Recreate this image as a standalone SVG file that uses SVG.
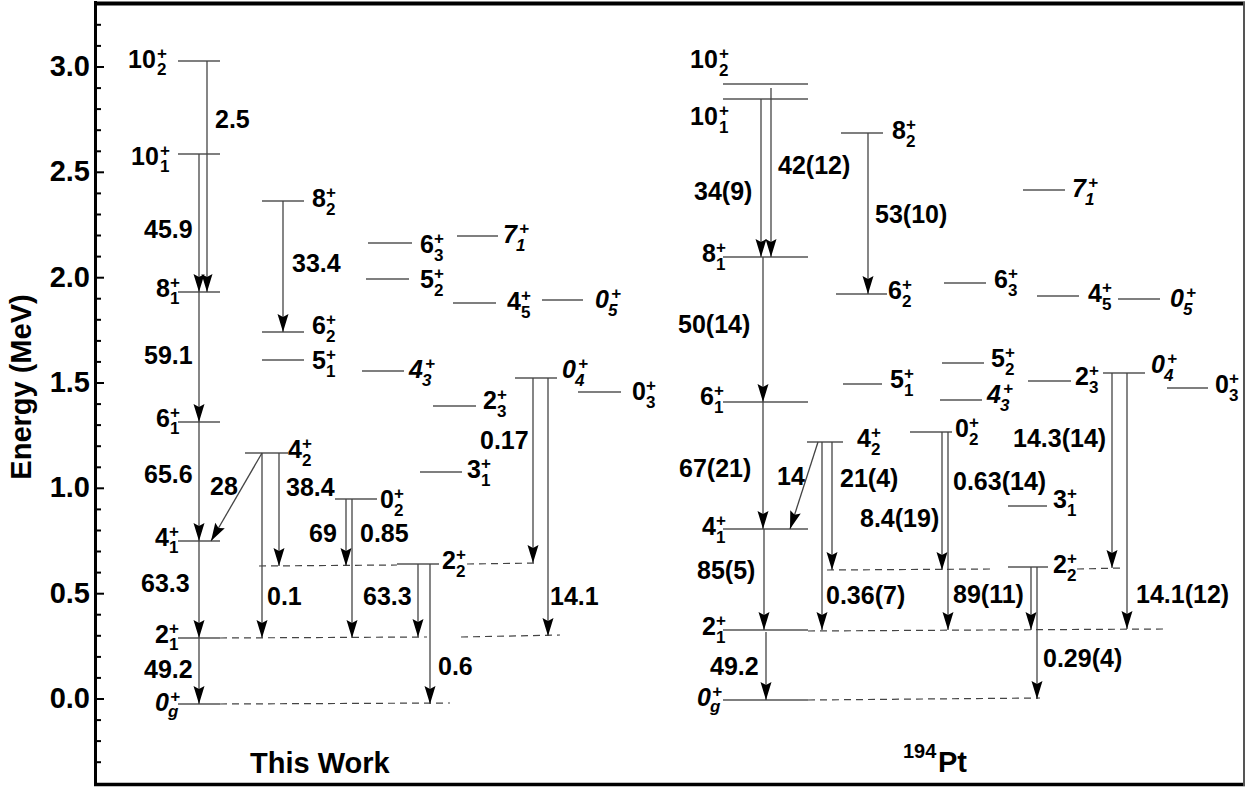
<svg xmlns="http://www.w3.org/2000/svg" width="1245" height="787" viewBox="0 0 1245 787">
<style>
text { font-family: "Liberation Sans", Arial, sans-serif; font-weight: bold; fill: #000; }
.t { font-size: 25px; }
.s { font-size: 17px; }
.i { font-style: italic; }
.ax { font-size: 29px; }
.lvl { stroke: #000; stroke-width: 1.2; fill: none; }
.arr { stroke: #444; stroke-width: 1.3; fill: none; marker-end: url(#ah); }
.dash { stroke: #444; stroke-width: 1.2; stroke-dasharray: 7 5; fill: none; }
.tick { stroke: #000; stroke-width: 2; }
</style>
<defs>
<marker id="ah" viewBox="-19 -7 20 14" refX="0" refY="0" markerWidth="20" markerHeight="14" orient="auto" markerUnits="userSpaceOnUse">
<path d="M0,0 L-18,-5.5 L-15,0 L-18,5.5 Z" fill="#000"/>
</marker>
</defs>
<rect width="1245" height="787" fill="#fff"/>

<g id="frame">
<line x1="95.5" y1="1" x2="95.5" y2="786" stroke="#000" stroke-width="3"/>
<line x1="94" y1="3.5" x2="1245" y2="3.5" stroke="#000" stroke-width="4"/>
<line x1="94" y1="784.5" x2="1245" y2="784.5" stroke="#000" stroke-width="3.5"/>
<line x1="1244" y1="2" x2="1244" y2="786" stroke="#555" stroke-width="2"/>
</g>

<g id="axis">
<g class="tick">
<line x1="97" y1="24.8" x2="101" y2="24.8"/><line x1="97" y1="45.9" x2="101" y2="45.9"/>
<line x1="97" y1="67" x2="104" y2="67"/>
<line x1="97" y1="88.1" x2="101" y2="88.1"/><line x1="97" y1="109.1" x2="101" y2="109.1"/><line x1="97" y1="130.2" x2="101" y2="130.2"/><line x1="97" y1="151.3" x2="101" y2="151.3"/>
<line x1="97" y1="172.3" x2="104" y2="172.3"/>
<line x1="97" y1="193.4" x2="101" y2="193.4"/><line x1="97" y1="214.5" x2="101" y2="214.5"/><line x1="97" y1="235.5" x2="101" y2="235.5"/><line x1="97" y1="256.6" x2="101" y2="256.6"/>
<line x1="97" y1="277.7" x2="104" y2="277.7"/>
<line x1="97" y1="298.7" x2="101" y2="298.7"/><line x1="97" y1="319.8" x2="101" y2="319.8"/><line x1="97" y1="340.9" x2="101" y2="340.9"/><line x1="97" y1="361.9" x2="101" y2="361.9"/>
<line x1="97" y1="383" x2="104" y2="383"/>
<line x1="97" y1="404.1" x2="101" y2="404.1"/><line x1="97" y1="425.1" x2="101" y2="425.1"/><line x1="97" y1="446.2" x2="101" y2="446.2"/><line x1="97" y1="467.3" x2="101" y2="467.3"/>
<line x1="97" y1="488.3" x2="104" y2="488.3"/>
<line x1="97" y1="509.4" x2="101" y2="509.4"/><line x1="97" y1="530.5" x2="101" y2="530.5"/><line x1="97" y1="551.5" x2="101" y2="551.5"/><line x1="97" y1="572.6" x2="101" y2="572.6"/>
<line x1="97" y1="593.7" x2="104" y2="593.7"/>
<line x1="97" y1="614.7" x2="101" y2="614.7"/><line x1="97" y1="635.8" x2="101" y2="635.8"/><line x1="97" y1="656.9" x2="101" y2="656.9"/><line x1="97" y1="677.9" x2="101" y2="677.9"/>
<line x1="97" y1="699" x2="104" y2="699"/>
<line x1="97" y1="720.1" x2="101" y2="720.1"/><line x1="97" y1="741.1" x2="101" y2="741.1"/><line x1="97" y1="762.2" x2="101" y2="762.2"/>
</g>
<g text-anchor="end">
<text class="ax" x="90" y="76">3.0</text>
<text class="ax" x="90" y="181.3">2.5</text>
<text class="ax" x="90" y="286.7">2.0</text>
<text class="ax" x="90" y="392">1.5</text>
<text class="ax" x="90" y="497.3">1.0</text>
<text class="ax" x="90" y="602.7">0.5</text>
<text class="ax" x="90" y="708">0.0</text>
</g>
<text class="ax" text-anchor="middle" transform="translate(31,387) rotate(-90)">Energy (MeV)</text>
</g>

<g id="panel-titles">
<text class="ax" x="250" y="773">This Work</text>
<text class="ax" x="903" y="772"><tspan style="font-size:20px" dy="-14">194</tspan><tspan x="938" dy="14">Pt</tspan></text>
</g>

<!-- Left panel levels -->
<g id="L-10_2"><line class="lvl" x1="178" y1="61" x2="220" y2="61"/><text class="t" x="128" y="68">10<tspan class="s" x="157" dy="-9">+</tspan><tspan class="s" x="157" dy="16">2</tspan></text></g>
<g id="L-10_1"><line class="lvl" x1="178" y1="154" x2="220" y2="154"/><text class="t" x="131" y="165">10<tspan class="s" x="160" dy="-9">+</tspan><tspan class="s" x="160" dy="16">1</tspan></text></g>
<g id="L-8_1"><line class="lvl" x1="178" y1="292" x2="220" y2="292"/><text class="t" x="156" y="297">8<tspan class="s" x="170" dy="-9">+</tspan><tspan class="s" x="170" dy="16">1</tspan></text></g>
<g id="L-6_1"><line class="lvl" x1="178" y1="422" x2="220" y2="422"/><text class="t" x="156" y="427">6<tspan class="s" x="170" dy="-9">+</tspan><tspan class="s" x="170" dy="16">1</tspan></text></g>
<g id="L-4_1"><line class="lvl" x1="178" y1="541" x2="220" y2="541"/><text class="t" x="155" y="546">4<tspan class="s" x="169" dy="-9">+</tspan><tspan class="s" x="169" dy="16">1</tspan></text></g>
<g id="L-2_1"><line class="lvl" x1="178" y1="638" x2="220" y2="638"/><text class="t" x="155" y="643">2<tspan class="s" x="169" dy="-9">+</tspan><tspan class="s" x="169" dy="16">1</tspan></text></g>
<g id="L-0_g"><line class="lvl" x1="178" y1="704" x2="220" y2="704"/><text class="t i" x="155" y="711">0<tspan class="s" x="170" dy="-9">+</tspan><tspan class="s" x="168" dy="15">g</tspan></text></g>
<g id="L-8_2"><line class="lvl" x1="262" y1="201" x2="304" y2="201"/><text class="t" x="312" y="207">8<tspan class="s" x="326" dy="-9">+</tspan><tspan class="s" x="326" dy="17">2</tspan></text></g>
<g id="L-6_2"><line class="lvl" x1="262" y1="332" x2="304" y2="332"/><text class="t" x="312" y="334">6<tspan class="s" x="326" dy="-9">+</tspan><tspan class="s" x="326" dy="17">2</tspan></text></g>
<g id="L-5_1"><line class="lvl" x1="262" y1="360" x2="304" y2="360"/><text class="t" x="312" y="369">5<tspan class="s" x="326" dy="-9">+</tspan><tspan class="s" x="326" dy="17">1</tspan></text></g>
<g id="L-6_3"><line class="lvl" x1="368" y1="243" x2="412" y2="243"/><text class="t" x="420" y="253">6<tspan class="s" x="434" dy="-9">+</tspan><tspan class="s" x="434" dy="17">3</tspan></text></g>
<g id="L-5_2"><line class="lvl" x1="366" y1="279" x2="409" y2="279"/><text class="t" x="420" y="288">5<tspan class="s" x="434" dy="-9">+</tspan><tspan class="s" x="434" dy="17">2</tspan></text></g>
<g id="L-7_1"><line class="lvl" x1="457" y1="236" x2="498" y2="236"/><text class="t i" x="503" y="243">7<tspan class="s" x="519" dy="-9">+</tspan><tspan class="s" x="516" dy="17">1</tspan></text></g>
<g id="L-4_5"><line class="lvl" x1="453" y1="303" x2="496" y2="303"/><text class="t" x="507" y="310">4<tspan class="s" x="521" dy="-9">+</tspan><tspan class="s" x="521" dy="17">5</tspan></text></g>
<g id="L-0_5"><line class="lvl" x1="542" y1="300" x2="583" y2="300"/><text class="t i" x="595" y="308">0<tspan class="s" x="611" dy="-9">+</tspan><tspan class="s" x="608" dy="17">5</tspan></text></g>
<g id="L-4_3"><line class="lvl" x1="362" y1="371" x2="404" y2="371"/><text class="t i" x="409" y="378">4<tspan class="s" x="425" dy="-9">+</tspan><tspan class="s" x="422" dy="17">3</tspan></text></g>
<g id="L-0_4"><line class="lvl" x1="515" y1="378" x2="557" y2="378"/><text class="t i" x="562" y="378">0<tspan class="s" x="578" dy="-9">+</tspan><tspan class="s" x="575" dy="17">4</tspan></text></g>
<g id="L-2_3"><line class="lvl" x1="433" y1="406" x2="476" y2="406"/><text class="t" x="483" y="409">2<tspan class="s" x="497" dy="-9">+</tspan><tspan class="s" x="497" dy="17">3</tspan></text></g>
<g id="L-0_3"><line class="lvl" x1="578" y1="392" x2="621" y2="392"/><text class="t" x="632" y="400">0<tspan class="s" x="646" dy="-9">+</tspan><tspan class="s" x="646" dy="17">3</tspan></text></g>
<g id="L-3_1"><line class="lvl" x1="420" y1="472" x2="462" y2="472"/><text class="t" x="467" y="478">3<tspan class="s" x="481" dy="-9">+</tspan><tspan class="s" x="481" dy="17">1</tspan></text></g>
<g id="L-4_2"><line class="lvl" x1="245" y1="453" x2="288" y2="453"/><text class="t" x="288" y="458">4<tspan class="s" x="302" dy="-9">+</tspan><tspan class="s" x="302" dy="17">2</tspan></text></g>
<g id="L-0_2"><line class="lvl" x1="335" y1="499" x2="377" y2="499"/><text class="t" x="380" y="508">0<tspan class="s" x="394" dy="-9">+</tspan><tspan class="s" x="394" dy="17">2</tspan></text></g>
<g id="L-2_2"><line class="lvl" x1="397" y1="564" x2="439" y2="564"/><text class="t" x="442" y="569">2<tspan class="s" x="456" dy="-9">+</tspan><tspan class="s" x="456" dy="17">2</tspan></text></g>

<!-- Right panel levels -->
<g id="R-10_2"><line class="lvl" x1="723" y1="84" x2="808" y2="84"/><text class="t" x="690" y="68">10<tspan class="s" x="719" dy="-9">+</tspan><tspan class="s" x="719" dy="17">2</tspan></text></g>
<g id="R-10_1"><line class="lvl" x1="723" y1="99" x2="808" y2="99"/><text class="t" x="690" y="125">10<tspan class="s" x="719" dy="-9">+</tspan><tspan class="s" x="719" dy="17">1</tspan></text></g>
<g id="R-8_1"><line class="lvl" x1="723" y1="257" x2="808" y2="257"/><text class="t" x="702" y="262">8<tspan class="s" x="716" dy="-9">+</tspan><tspan class="s" x="716" dy="17">1</tspan></text></g>
<g id="R-8_2"><line class="lvl" x1="841" y1="133" x2="883" y2="133"/><text class="t" x="892" y="139">8<tspan class="s" x="906" dy="-9">+</tspan><tspan class="s" x="906" dy="17">2</tspan></text></g>
<g id="R-6_2"><line class="lvl" x1="836" y1="294" x2="887" y2="294"/><text class="t" x="888" y="299">6<tspan class="s" x="902" dy="-9">+</tspan><tspan class="s" x="902" dy="17">2</tspan></text></g>
<g id="R-6_1"><line class="lvl" x1="723" y1="402" x2="808" y2="402"/><text class="t" x="700" y="405">6<tspan class="s" x="714" dy="-9">+</tspan><tspan class="s" x="714" dy="17">1</tspan></text></g>
<g id="R-5_1"><line class="lvl" x1="843" y1="384" x2="882" y2="384"/><text class="t" x="890" y="388">5<tspan class="s" x="904" dy="-9">+</tspan><tspan class="s" x="904" dy="17">1</tspan></text></g>
<g id="R-4_1"><line class="lvl" x1="723" y1="529" x2="808" y2="529"/><text class="t" x="702" y="535">4<tspan class="s" x="716" dy="-9">+</tspan><tspan class="s" x="716" dy="17">1</tspan></text></g>
<g id="R-4_2"><line class="lvl" x1="807" y1="442" x2="843" y2="442"/><text class="t" x="857" y="447">4<tspan class="s" x="871" dy="-9">+</tspan><tspan class="s" x="871" dy="17">2</tspan></text></g>
<g id="R-2_1"><line class="lvl" x1="723" y1="630" x2="808" y2="630"/><text class="t" x="702" y="635">2<tspan class="s" x="716" dy="-9">+</tspan><tspan class="s" x="716" dy="17">1</tspan></text></g>
<g id="R-0_g"><line class="lvl" x1="723" y1="700" x2="808" y2="700"/><text class="t i" x="697" y="706">0<tspan class="s" x="712" dy="-9">+</tspan><tspan class="s" x="710" dy="15">g</tspan></text></g>
<g id="R-0_2"><line class="lvl" x1="910" y1="432" x2="952" y2="432"/><text class="t" x="955" y="437">0<tspan class="s" x="969" dy="-9">+</tspan><tspan class="s" x="969" dy="17">2</tspan></text></g>
<g id="R-4_3"><line class="lvl" x1="940" y1="400" x2="982" y2="400"/><text class="t i" x="987" y="403">4<tspan class="s" x="1003" dy="-9">+</tspan><tspan class="s" x="1000" dy="17">3</tspan></text></g>
<g id="R-3_1"><line class="lvl" x1="1008" y1="506" x2="1047" y2="506"/><text class="t" x="1053" y="508">3<tspan class="s" x="1067" dy="-9">+</tspan><tspan class="s" x="1067" dy="17">1</tspan></text></g>
<g id="R-2_2"><line class="lvl" x1="1008" y1="567" x2="1048" y2="567"/><text class="t" x="1053" y="573">2<tspan class="s" x="1067" dy="-9">+</tspan><tspan class="s" x="1067" dy="17">2</tspan></text></g>
<g id="R-5_2"><line class="lvl" x1="942" y1="363" x2="984" y2="363"/><text class="t" x="991" y="367">5<tspan class="s" x="1005" dy="-9">+</tspan><tspan class="s" x="1005" dy="17">2</tspan></text></g>
<g id="R-6_3"><line class="lvl" x1="944" y1="283" x2="986" y2="283"/><text class="t" x="994" y="288">6<tspan class="s" x="1008" dy="-9">+</tspan><tspan class="s" x="1008" dy="17">3</tspan></text></g>
<g id="R-7_1"><line class="lvl" x1="1023" y1="190" x2="1065" y2="190"/><text class="t i" x="1072" y="197">7<tspan class="s" x="1088" dy="-9">+</tspan><tspan class="s" x="1085" dy="17">1</tspan></text></g>
<g id="R-4_5"><line class="lvl" x1="1037" y1="296" x2="1079" y2="296"/><text class="t" x="1088" y="302">4<tspan class="s" x="1102" dy="-9">+</tspan><tspan class="s" x="1102" dy="17">5</tspan></text></g>
<g id="R-0_5"><line class="lvl" x1="1118" y1="299" x2="1160" y2="299"/><text class="t i" x="1170" y="307">0<tspan class="s" x="1186" dy="-9">+</tspan><tspan class="s" x="1183" dy="17">5</tspan></text></g>
<g id="R-2_3"><line class="lvl" x1="1028" y1="381" x2="1071" y2="381"/><text class="t" x="1075" y="385">2<tspan class="s" x="1089" dy="-9">+</tspan><tspan class="s" x="1089" dy="17">3</tspan></text></g>
<g id="R-0_4"><line class="lvl" x1="1103" y1="373" x2="1145" y2="373"/><text class="t i" x="1151" y="373">0<tspan class="s" x="1167" dy="-9">+</tspan><tspan class="s" x="1164" dy="17">4</tspan></text></g>
<g id="R-0_3"><line class="lvl" x1="1167" y1="388" x2="1208" y2="388"/><text class="t" x="1215" y="393">0<tspan class="s" x="1229" dy="-9">+</tspan><tspan class="s" x="1229" dy="17">3</tspan></text></g>

<g id="connectors">
<!-- dashed level extensions -->
<line class="dash" x1="220" y1="638" x2="427" y2="637"/>
<line class="dash" x1="220" y1="704" x2="450" y2="703"/>
<line class="dash" x1="259" y1="566" x2="397" y2="565"/>
<line class="dash" x1="467" y1="564" x2="538" y2="563"/>
<line class="dash" x1="461" y1="637" x2="560" y2="635"/>
<line class="dash" x1="827" y1="570" x2="993" y2="569"/>
<line class="dash" x1="1077" y1="569" x2="1122" y2="568"/>
<line class="dash" x1="808" y1="631" x2="1163" y2="629"/>
<line class="dash" x1="808" y1="700" x2="1040" y2="698"/>

<!-- left panel transitions -->
<line class="arr" x1="207" y1="61" x2="207" y2="292"/>
<line class="arr" x1="199" y1="154" x2="199" y2="292"/>
<line class="arr" x1="199" y1="292" x2="199" y2="422"/>
<line class="arr" x1="199" y1="422" x2="199" y2="541"/>
<line class="arr" x1="199" y1="541" x2="199" y2="638"/>
<line class="arr" x1="199" y1="638" x2="199" y2="704"/>
<line class="arr" x1="283" y1="201" x2="283" y2="332"/>
<line class="arr" x1="262" y1="453" x2="211" y2="541"/>
<line class="arr" x1="262" y1="453" x2="262" y2="638"/>
<line class="arr" x1="279" y1="453" x2="279" y2="566"/>
<line class="arr" x1="346" y1="499" x2="346" y2="566"/>
<line class="arr" x1="352" y1="499" x2="352" y2="638"/>
<line class="arr" x1="418" y1="564" x2="418" y2="637"/>
<line class="arr" x1="430" y1="564" x2="430" y2="704"/>
<line class="arr" x1="533" y1="378" x2="533" y2="563"/>
<line class="arr" x1="548" y1="378" x2="548" y2="636"/>

<!-- right panel transitions -->
<line class="arr" x1="761" y1="99" x2="761" y2="257"/>
<line class="arr" x1="771" y1="88" x2="771" y2="257"/>
<line class="arr" x1="868" y1="133" x2="868" y2="294"/>
<line class="arr" x1="763" y1="257" x2="763" y2="402"/>
<line class="arr" x1="763" y1="402" x2="763" y2="529"/>
<line class="arr" x1="818" y1="442" x2="790" y2="529"/>
<line class="arr" x1="822" y1="442" x2="822" y2="630"/>
<line class="arr" x1="832" y1="442" x2="832" y2="570"/>
<line class="arr" x1="764" y1="529" x2="764" y2="630"/>
<line class="arr" x1="766" y1="632" x2="766" y2="700"/>
<line class="arr" x1="942" y1="432" x2="942" y2="570"/>
<line class="arr" x1="948" y1="432" x2="948" y2="630"/>
<line class="arr" x1="1031" y1="567" x2="1031" y2="630"/>
<line class="arr" x1="1037" y1="567" x2="1037" y2="699"/>
<line class="arr" x1="1112" y1="373" x2="1112" y2="568"/>
<line class="arr" x1="1127" y1="373" x2="1127" y2="629"/>

<!-- transition labels -->
<g>
<text class="t" x="215" y="128">2.5</text>
<text class="t" x="144" y="238">45.9</text>
<text class="t" x="144" y="364">59.1</text>
<text class="t" x="144" y="483">65.6</text>
<text class="t" x="210" y="495">28</text>
<text class="t" x="141" y="592">63.3</text>
<text class="t" x="144" y="678">49.2</text>
<text class="t" x="267" y="605">0.1</text>
<text class="t" x="286" y="496">38.4</text>
<text class="t" x="309" y="542">69</text>
<text class="t" x="360" y="542">0.85</text>
<text class="t" x="363" y="605">63.3</text>
<text class="t" x="438" y="675">0.6</text>
<text class="t" x="550" y="605">14.1</text>
<text class="t" x="480" y="449">0.17</text>
<text class="t" x="292" y="272">33.4</text>

<text class="t" x="694" y="200">34(9)</text>
<text class="t" x="778" y="174">42(12)</text>
<text class="t" x="875" y="223">53(10)</text>
<text class="t" x="678" y="333">50(14)</text>
<text class="t" x="679" y="477">67(21)</text>
<text class="t" x="777" y="485">14</text>
<text class="t" x="826" y="604">0.36(7)</text>
<text class="t" x="840" y="487">21(4)</text>
<text class="t" x="697" y="579">85(5)</text>
<text class="t" x="710" y="675">49.2</text>
<text class="t" x="860" y="527">8.4(19)</text>
<text class="t" x="953" y="490">0.63(14)</text>
<text class="t" x="953" y="603">89(11)</text>
<text class="t" x="1043" y="667">0.29(4)</text>
<text class="t" x="1013" y="447">14.3(14)</text>
<text class="t" x="1136" y="603">14.1(12)</text>
</g>
</g>
</svg>
